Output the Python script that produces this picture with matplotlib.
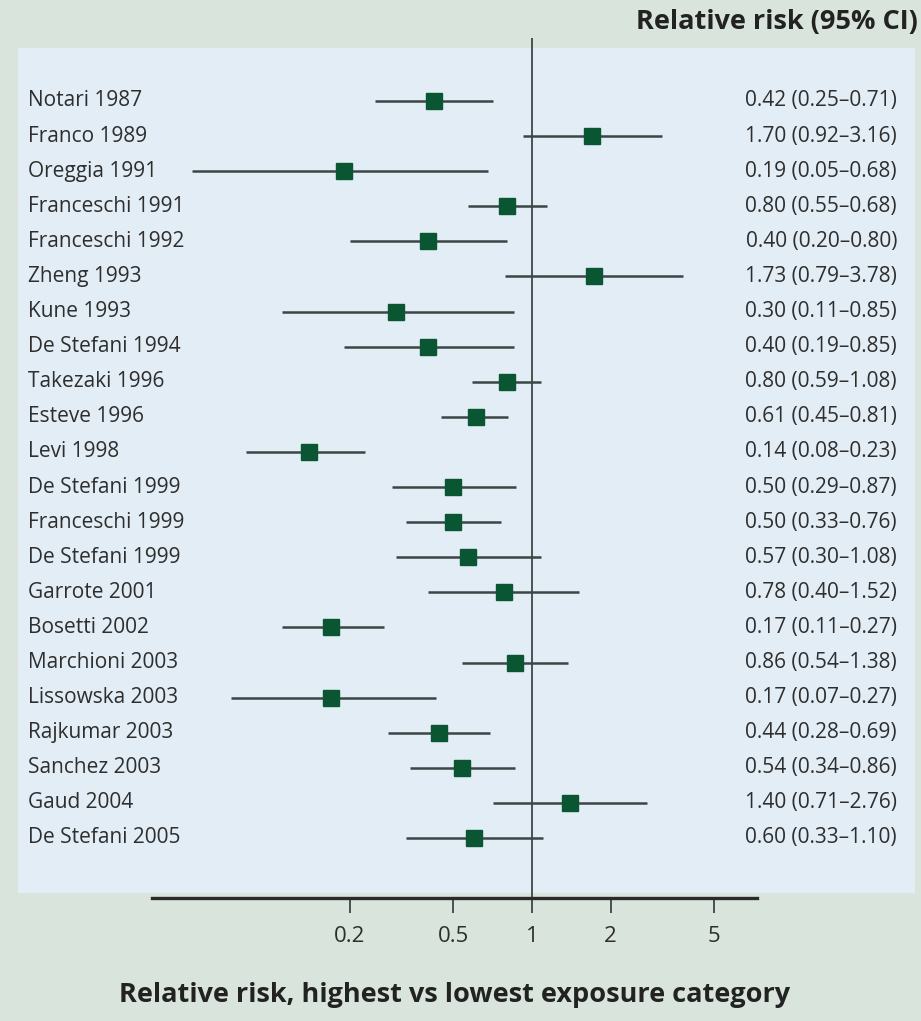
import matplotlib.pyplot as plt
import matplotlib.transforms as mtransforms
from matplotlib.patches import Rectangle

plt.rcParams['font.family'] = ['Open Sans', 'DejaVu Sans']

# Study data (relative risk and 95% CI as drawn)
studies = ['Notari 1987', 'Franco 1989', 'Oreggia 1991', 'Franceschi 1991',
           'Franceschi 1992', 'Zheng 1993', 'Kune 1993', 'De Stefani 1994',
           'Takezaki 1996', 'Esteve 1996', 'Levi 1998', 'De Stefani 1999',
           'Franceschi 1999', 'De Stefani 1999', 'Garrote 2001', 'Bosetti 2002',
           'Marchioni 2003', 'Lissowska 2003', 'Rajkumar 2003', 'Sanchez 2003',
           'Gaud 2004', 'De Stefani 2005']
rr = [0.42, 1.70, 0.19, 0.80, 0.40, 1.73, 0.30, 0.40, 0.80, 0.61, 0.14,
      0.50, 0.50, 0.57, 0.78, 0.17, 0.86, 0.17, 0.44, 0.54, 1.40, 0.60]
ci_low = [0.25, 0.92, 0.05, 0.57, 0.20, 0.79, 0.11, 0.19, 0.59, 0.45, 0.08,
          0.29, 0.33, 0.30, 0.40, 0.11, 0.54, 0.07, 0.28, 0.34, 0.71, 0.33]
ci_high = [0.71, 3.16, 0.68, 1.14, 0.80, 3.78, 0.85, 0.85, 1.08, 0.81, 0.23,
           0.87, 0.76, 1.08, 1.52, 0.27, 1.38, 0.43, 0.69, 0.86, 2.76, 1.10]
labels = ['0.42 (0.25\u20130.71)', '1.70 (0.92\u20133.16)', '0.19 (0.05\u20130.68)',
          '0.80 (0.55\u20130.68)', '0.40 (0.20\u20130.80)', '1.73 (0.79\u20133.78)',
          '0.30 (0.11\u20130.85)', '0.40 (0.19\u20130.85)', '0.80 (0.59\u20131.08)',
          '0.61 (0.45\u20130.81)', '0.14 (0.08\u20130.23)', '0.50 (0.29\u20130.87)',
          '0.50 (0.33\u20130.76)', '0.57 (0.30\u20131.08)', '0.78 (0.40\u20131.52)',
          '0.17 (0.11\u20130.27)', '0.86 (0.54\u20131.38)', '0.17 (0.07\u20130.27)',
          '0.44 (0.28\u20130.69)', '0.54 (0.34\u20130.86)', '1.40 (0.71\u20132.76)',
          '0.60 (0.33\u20131.10)']
xticks = [0.2, 0.5, 1, 2, 5]
xticklabels = ['0.2', '0.5', '1', '2', '5']

W, H = 921, 1021
outer_bg = '#d9e4dc'
panel_bg = '#e2edf5'
text_col = '#2e2e2e'
line_col = '#3c4646'
box_col = '#0a5632'

fig = plt.figure(figsize=(W / 100, H / 100), dpi=100, facecolor=outer_bg)

# light blue panel behind the forest plot
fig.patches.append(Rectangle((18 / W, 1 - 893 / H), (915 - 18) / W, (893 - 48) / H,
                             transform=fig.transFigure, facecolor=panel_bg,
                             edgecolor='none', zorder=-5))

ax = fig.add_axes([152 / W, 1 - 898 / H, (757 - 152) / W, (898 - 38) / H])
ax.set_zorder(2)
ax.set_facecolor('none')
ax.set_xscale('log')
ax.set_xlim(0.035, 7.28)
n = len(studies)
ax.set_ylim(n - 1 + 1.71, -1.795)

ax.axvline(1, color=line_col, lw=1.3, zorder=1)

y = list(range(n))
ax.hlines(y, ci_low, ci_high, color=line_col, lw=1.8, zorder=2)
ax.plot(rr, y, 's', color=box_col, markersize=11.5, zorder=3)

for s in ['top', 'left', 'right']:
    ax.spines[s].set_visible(False)
ax.spines['bottom'].set_linewidth(2.4)
ax.spines['bottom'].set_color('#2a2a2a')
ax.set_yticks([])
ax.set_xticks(xticks)
ax.set_xticklabels(xticklabels)
ax.xaxis.set_minor_locator(plt.NullLocator())
ax.tick_params(axis='x', direction='out', length=11, width=1.3, color=line_col,
               pad=9, labelsize=16, labelcolor=text_col)

trans = mtransforms.blended_transform_factory(fig.transFigure, ax.transData)
for i in range(n):
    ax.text(28 / W, i, studies[i], transform=trans, ha='left', va='center',
            fontsize=15, color=text_col, clip_on=False)
    ax.text(897 / W, i, labels[i], transform=trans, ha='right', va='center',
            fontsize=15, color=text_col, clip_on=False)

fig.text(918 / W, 1 - 22 / H, 'Relative risk (95% CI)', ha='right', va='center',
         fontsize=19.5, weight='bold', color='#222222')
fig.text(455 / W, 1 - 995 / H, 'Relative risk, highest vs lowest exposure category',
         ha='center', va='center', fontsize=19.5, weight='bold', color='#222222')

fig.savefig('out.png', dpi=100, facecolor=outer_bg)
